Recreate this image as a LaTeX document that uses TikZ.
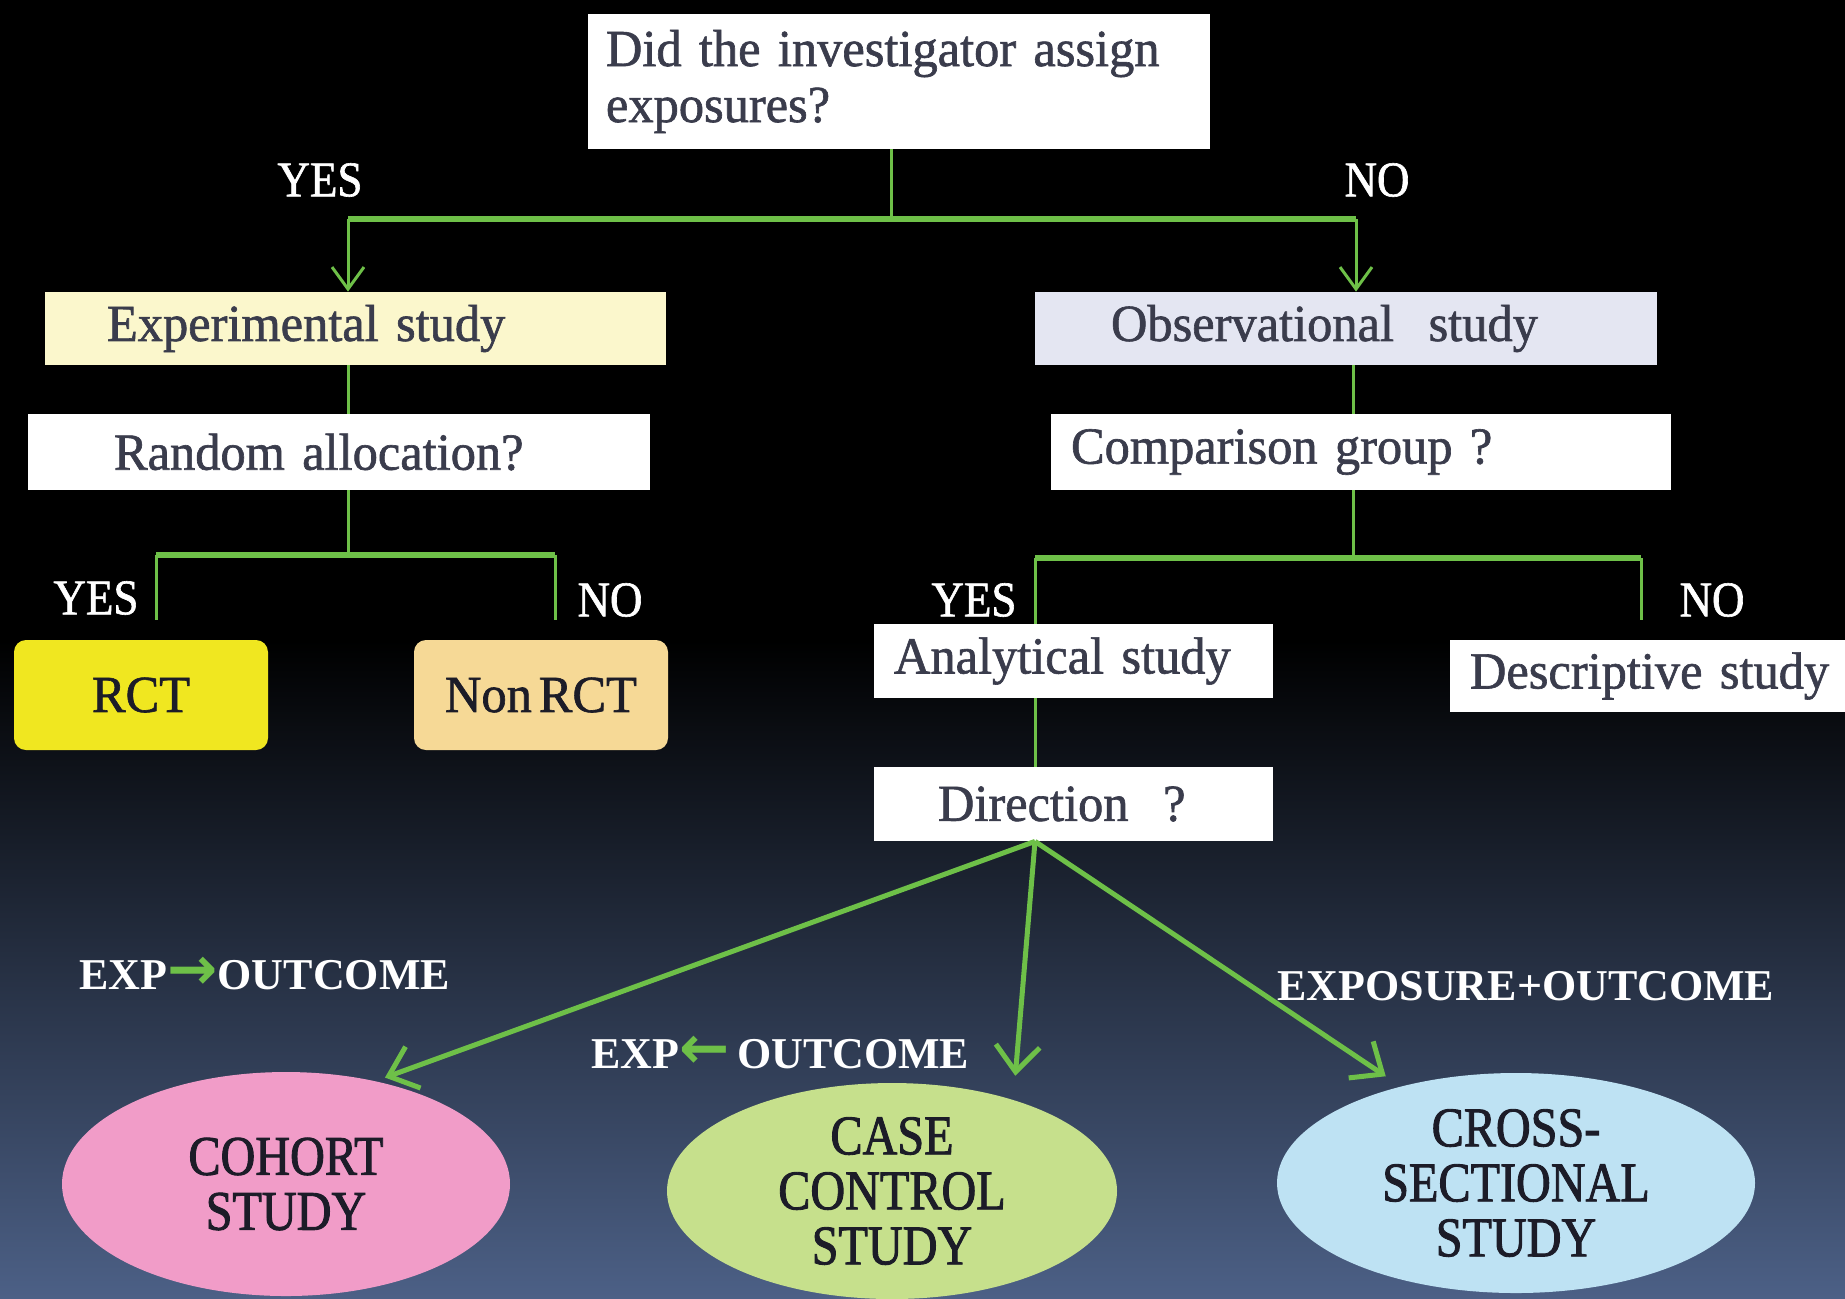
\documentclass[tikz,border=0pt]{standalone}
\usepackage{fontspec}
\setmainfont{Liberation Serif}
\newfontfamily\boxserif[FakeStretch=0.97, FakeBold=1.2, WordSpace=0.55]{Liberation Serif}
\newfontfamily\condserif[FakeStretch=0.86, FakeBold=1.6]{Liberation Serif}
\newfontfamily\labelserif[FakeStretch=0.9, FakeBold=1.2]{Liberation Serif}
\newfontfamily\symfont{DejaVu Sans}
\usetikzlibrary{arrows.meta,shapes.geometric}

\definecolor{flowgreen}{RGB}{110,192,72}
\definecolor{boxtext}{RGB}{58,60,76}
\definecolor{darktext}{RGB}{28,28,40}
\definecolor{bgbottom}{RGB}{76,96,134}
\definecolor{expfill}{RGB}{251,247,204}
\definecolor{obsfill}{RGB}{228,230,242}
\definecolor{rctfill}{RGB}{240,231,32}
\definecolor{nonrctfill}{RGB}{246,217,150}
\definecolor{cohortfill}{RGB}{241,156,200}
\definecolor{casefill}{RGB}{198,224,140}
\definecolor{crossfill}{RGB}{190,226,243}

\tikzset{
  qbox/.style={fill=white, text=boxtext, inner sep=0pt,
    font=\boxserif\fontsize{26}{28}\selectfont, align=left},
  padbox/.style={qbox, text width=#1},
  resbox/.style={rounded corners=6pt, text=darktext, inner sep=0pt,
    minimum width=127pt, minimum height=55pt,
    font=\boxserif\fontsize{26}{28}\selectfont},
  answer/.style={text=white, inner sep=0pt, font=\labelserif\fontsize{25}{28}\selectfont},
  dirlabel/.style={text=white, inner sep=0pt, font=\bfseries\fontsize{22}{24}\selectfont},
  studyshape/.style={ellipse, text=darktext, inner sep=0pt, align=center,
    font=\condserif\fontsize{28}{27.5}\selectfont},
  trunk/.style={draw=flowgreen, line width=3pt},
  stem/.style={draw=flowgreen, line width=1.5pt},
  diag/.style={draw=flowgreen, line width=2.5pt},
  downtip/.style={-{Straight Barb[length=11pt,width=16pt,line width=1.5pt]}},
  bigtip/.style={-{Straight Barb[length=13pt,width=22pt,line width=2.5pt]}},
}

\begin{document}
\begin{tikzpicture}[x=0.5pt,y=-0.5pt]
\useasboundingbox (0,0) rectangle (1845,1298);

% background: black fading into slate blue towards the bottom
\fill[black] (0,0) rectangle (1845,1298);
\shade[top color=black, bottom color=bgbottom] (0,640) rectangle (1845,1298);

% question and category boxes
\node[padbox=311pt, minimum height=67.5pt] (assign) at (899,81.5)
  {\hspace*{9pt}Did the investigator assign\\\hspace*{9pt}exposures?};
\node[padbox=310.5pt, minimum height=36.5pt, fill=expfill] (exp) at (355.5,328.5)
  {\hspace*{31pt}Experimental study};
\node[padbox=311pt, minimum height=36.5pt, fill=obsfill] (obs) at (1346,328.5)
  {\hspace*{38pt}Observational\ \ study};
\node[padbox=311pt, minimum height=38pt] (rand) at (339,452)
  {\hspace*{43pt}Random allocation?};
\node[padbox=310pt, minimum height=38pt] (comp) at (1361,452)
  {\hspace*{10pt}Comparison group ?};
\node[padbox=199.5pt, minimum height=37pt] (anal) at (1073.5,661)
  {\hspace*{10pt}Analytical study};
\node[padbox=197.5pt, minimum height=36pt] (desc) at (1647.5,676)
  {\hspace*{10pt}Descriptive study};
\node[padbox=199.5pt, minimum height=37pt] (dir) at (1073.5,804)
  {\hspace*{32pt}Direction\ \ ?};

% trial outcomes
\node[resbox, fill=rctfill] (rct) at (141,695) {RCT};
\node[resbox, fill=nonrctfill] (nonrct) at (541,695) {Non RCT};

% study designs
\node[studyshape, fill=cohortfill, minimum width=224pt, minimum height=112pt]
  (cohort) at (286,1184) {COHORT\\STUDY};
\node[studyshape, fill=casefill, minimum width=225pt, minimum height=108pt]
  (case) at (892,1191) {CASE\\CONTROL\\STUDY};
\node[studyshape, fill=crossfill, minimum width=239pt, minimum height=110pt]
  (cross) at (1516,1183) {CROSS-\\SECTIONAL\\STUDY};

% yes / no answers
\node[answer] (yesA) at (320,180) {YES};
\node[answer] (noA) at (1377,180) {NO};
\node[answer] (yesB) at (96,598) {YES};
\node[answer] (noB) at (610,600) {NO};
\node[answer] (yesC) at (974,600) {YES};
\node[answer] (noC) at (1712,600) {NO};

% direction labels
\node[dirlabel, anchor=west] (cohortdir) at (79,974)
  {EXP{\color{flowgreen}\symfont\bfseries\fontsize{30}{24}\selectfont →}OUTCOME};
\node[dirlabel, anchor=west] (casedir) at (591,1053)
  {EXP{\color{flowgreen}\symfont\bfseries\fontsize{30}{24}\selectfont ←}\,OUTCOME};
\node[dirlabel, anchor=west] (crossdir) at (1277,986) {EXPOSURE+OUTCOME};

% first split
\coordinate (hub) at (891,219);
\coordinate (yesL) at (348,219);
\coordinate (noR) at (1356,219);
\draw[stem] (assign.south -| hub) -- (hub);
\draw[trunk] (yesL) -- (noR);
\draw[stem, downtip] (yesL) -- (exp.north -| yesL);
\draw[stem, downtip] (noR) -- (obs.north -| noR);

% experimental branch
\coordinate (rhub) at (348,555);
\coordinate (ryes) at (156,555);
\coordinate (rno) at (555,555);
\coordinate (ryesend) at (156,620);
\coordinate (rnoend) at (555,620);
\draw[stem] (exp.south -| yesL) -- (rand.north -| yesL);
\draw[stem] (rand.south -| rhub) -- (rhub);
\draw[trunk] (ryes) -- (rno);
\draw[stem] (ryes) -- (ryesend);
\draw[stem] (rno) -- (rnoend);

% observational branch
\coordinate (chub) at (1353,558);
\coordinate (cyes) at (1035,558);
\coordinate (cno) at (1641,558);
\coordinate (cnoend) at (1641,620);
\draw[stem] (obs.south -| chub) -- (comp.north -| chub);
\draw[stem] (comp.south -| chub) -- (chub);
\draw[trunk] (cyes) -- (cno);
\draw[stem] (cyes) -- (anal.north -| cyes);
\draw[stem] (cno) -- (cnoend);
\draw[stem] (anal.south -| cyes) -- (dir.north -| cyes);

% direction to study designs
\draw[diag, bigtip, shorten >=5pt] (dir.south -| cyes) -- (cohort.49);
\draw[diag, bigtip, shorten >=12pt] (dir.south -| cyes) -- (case.37);
\draw[diag, bigtip, shorten >=9pt] (dir.south -| cyes) -- (cross.140);
\end{tikzpicture}
\end{document}
